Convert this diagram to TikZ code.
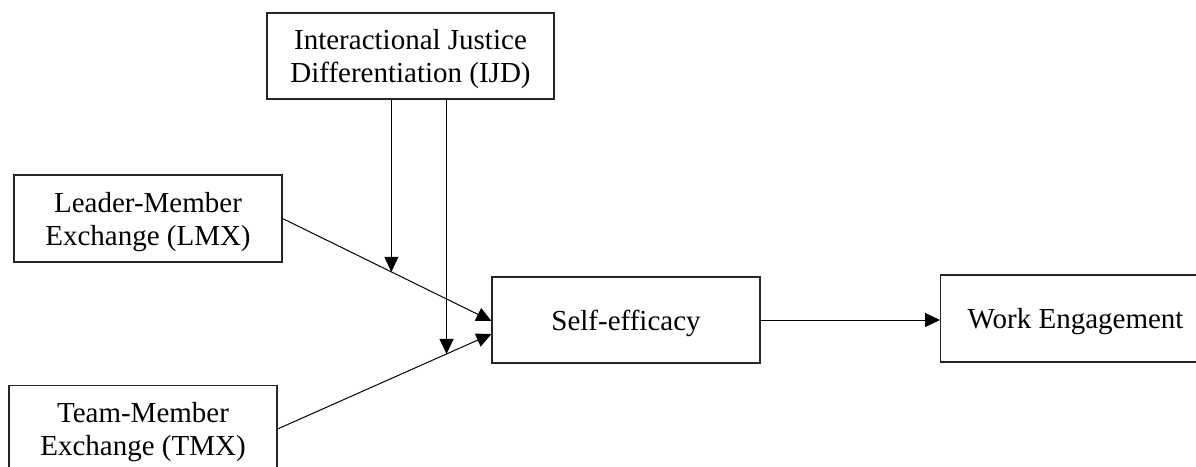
\documentclass[tikz,border=0pt]{standalone}
\usepackage{fontspec}
\setmainfont{Liberation Serif}
\usetikzlibrary{arrows.meta,calc}
\begin{document}
\begin{tikzpicture}[x=1pt,y=-1pt,
  box/.style={draw=black!85, line width=1.1pt, rectangle, inner sep=0pt},
  txt/.style={align=center, inner sep=0pt, yshift=-3.5pt, font=\fontsize{29}{33}\selectfont},
  conn/.style={line width=1pt, -{Triangle[length=15pt,width=14pt]}}]
\clip (0,0) rectangle (1196,466);
\useasboundingbox (0,0) rectangle (1196,466);
\node[box, minimum width=287pt, minimum height=86pt,
  label={[txt]center:Interactional Justice\\Differentiation (IJD)}] (ijd) at (410.5,56) {};
\node[box, minimum width=268pt, minimum height=87pt,
  label={[txt]center:Leader-Member\\Exchange (LMX)}] (lmx) at (148,218.5) {};
\node[box, minimum width=268pt, minimum height=87pt,
  label={[txt]center:Team-Member\\Exchange (TMX)}] (tmx) at (143,429) {};
\node[box, minimum width=268pt, minimum height=86pt,
  label={[txt,yshift=0.5pt]center:Self-efficacy}] (se) at (626,320) {};
\node[box, minimum width=270pt, minimum height=87pt, anchor=west,
  label={[txt,yshift=0.5pt]center:Work Engagement}] (we) at (940,318.5) {};
\coordinate (lmxend) at ($(se.west)+(0,1)$);
\coordinate (tmxend) at ($(se.west)+(0,14)$);
\draw[conn] (lmx.east) -- (lmxend);
\draw[conn] (tmx.east) -- (tmxend);
\coordinate (m1) at ($(lmx.east)!0.521!(lmxend)$);
\coordinate (m2) at ($(tmx.east)!0.79!(tmxend)$);
\draw[conn] (ijd.south -| m1) -- (m1);
\draw[conn] (ijd.south -| m2) -- (m2);
\draw[conn] (se.east) -- (we.west |- se.east);
\end{tikzpicture}
\end{document}
